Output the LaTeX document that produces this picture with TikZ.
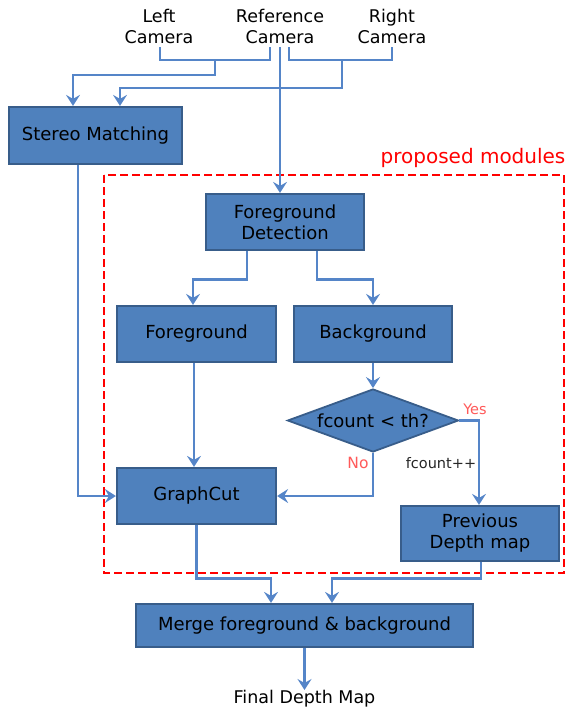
\documentclass[tikz,border=0pt]{standalone}
\usepackage{fontspec}
\setmainfont{DejaVu Sans}
\usetikzlibrary{arrows.meta,shapes.geometric,calc}
\definecolor{boxfill}{HTML}{4F81BD}
\definecolor{boxline}{HTML}{385D8A}
\definecolor{conn}{HTML}{5585C8}
\definecolor{propred}{HTML}{FF0000}
\definecolor{lblred}{HTML}{FF5A5A}
\tikzset{
  blk/.style={draw=boxline, line width=2.2pt, fill=boxfill, minimum width=158pt, minimum height=56pt, align=center, inner sep=2pt, font=\fontsize{18}{21}\selectfont},
  dia/.style={diamond, draw=boxline, line width=1.8pt, fill=boxfill, minimum width=171pt, minimum height=63pt, aspect=2.7, inner sep=0pt, font=\fontsize{18}{21}\selectfont},
  lbl/.style={align=center, font=\fontsize{17.5}{21}\selectfont, inner sep=0pt},
  conline/.style={draw=conn, line width=2.8pt},
  arr/.style={conline, -{Stealth[length=11pt,width=14pt,inset=4pt]}},
  small/.style={font=\fontsize{14.5}{17}\selectfont, inner sep=0pt}
}
\begin{document}
\begin{tikzpicture}[x=1pt,y=-1pt]
\useasboundingbox (0,0) rectangle (566,718);
% camera labels
\node[lbl] (lc) at (159,26) {Left\\Camera};
\node[lbl] (rc) at (280,26) {Reference\\Camera};
\node[lbl] (rr) at (392,26) {Right\\Camera};
\coordinate (lc1) at (160,47);
\coordinate (rc1) at (270,47);
\coordinate (rc2) at (280,47);
\coordinate (rc3) at (289,47);
\coordinate (rr1) at (392,47);
\coordinate (jl) at (215,60);
\coordinate (jr) at (342,60);
% boxes
\node[blk, minimum width=173pt, minimum height=57pt] (sm) at (95.5,135.5) {Stereo Matching};
\node[blk] (fd) at (285,222) {Foreground\\Detection};
\node[blk, minimum width=159pt] (fg) at (196.5,334) {Foreground};
\node[blk] (bg) at (373,334) {Background};
\node[dia] (dm) at (373,420.5) {fcount < th?};
\node[blk, minimum width=159pt] (gc) at (196.5,496) {GraphCut};
\node[blk, minimum height=55pt] (pd) at (480,533.5) {Previous\\Depth map};
\node[blk, minimum width=337pt, minimum height=43pt] (mg) at (304.5,625.5) {Merge foreground \& background};
\node[lbl, anchor=north] (fin) at (304.5,690) {Final Depth Map};
% proposed modules
\node[font=\fontsize{20}{24}\selectfont, text=propred, inner sep=0pt] (pm) at (473,158) {proposed modules};
\draw[propred, line width=2.5pt, dash pattern=on 8pt off 4pt] (104,175) rectangle (564,573);
% camera connectors
\draw[conline] (lc1) |- (jl) -| (rc1);
\draw[conline] (rc3) |- (jr) -| (rr1);
\draw[arr] (jl) -- ++(0,15) -| ([xshift=-22.5pt]sm.north);
\draw[arr] (jr) -- ++(0,28) -| ([xshift=24.5pt]sm.north);
\draw[arr] (rc2) -- ([xshift=-5pt]fd.north);
% flow
\draw[arr] ([xshift=-17.5pt]sm.south) |- (gc.west);
\draw[arr] ([xshift=-38pt]fd.south) -- ++(0,28) -| ([xshift=-3.5pt]fg.north);
\draw[arr] ([xshift=32pt]fd.south) -- ++(0,28) -| (bg.north);
\draw[arr] ([xshift=-2.5pt]fg.south) -- ([xshift=-2.5pt]gc.north);
\draw[arr] (bg.south) -- (dm.north);
\draw[arr] (dm.south) |- (gc.east);
\draw[arr] (dm.east) -| ([xshift=-1pt]pd.north);
\draw[arr] (gc.south) -- ++(0,53) -| ([xshift=-33.5pt]mg.north);
\draw[arr] ([xshift=1pt]pd.south) -- ++(0,16) -| ([xshift=27.5pt]mg.north);
\draw[arr] (mg.south) -- (fin.north);
% labels
\node[small, text=lblred] (yes) at (475,409) {Yes};
\node[small, text=lblred, font=\fontsize{15.5}{18}\selectfont] (no) at (358,463) {No};
\node[small, text=black!85] (fc) at (441,463) {fcount++};
\end{tikzpicture}
\end{document}
